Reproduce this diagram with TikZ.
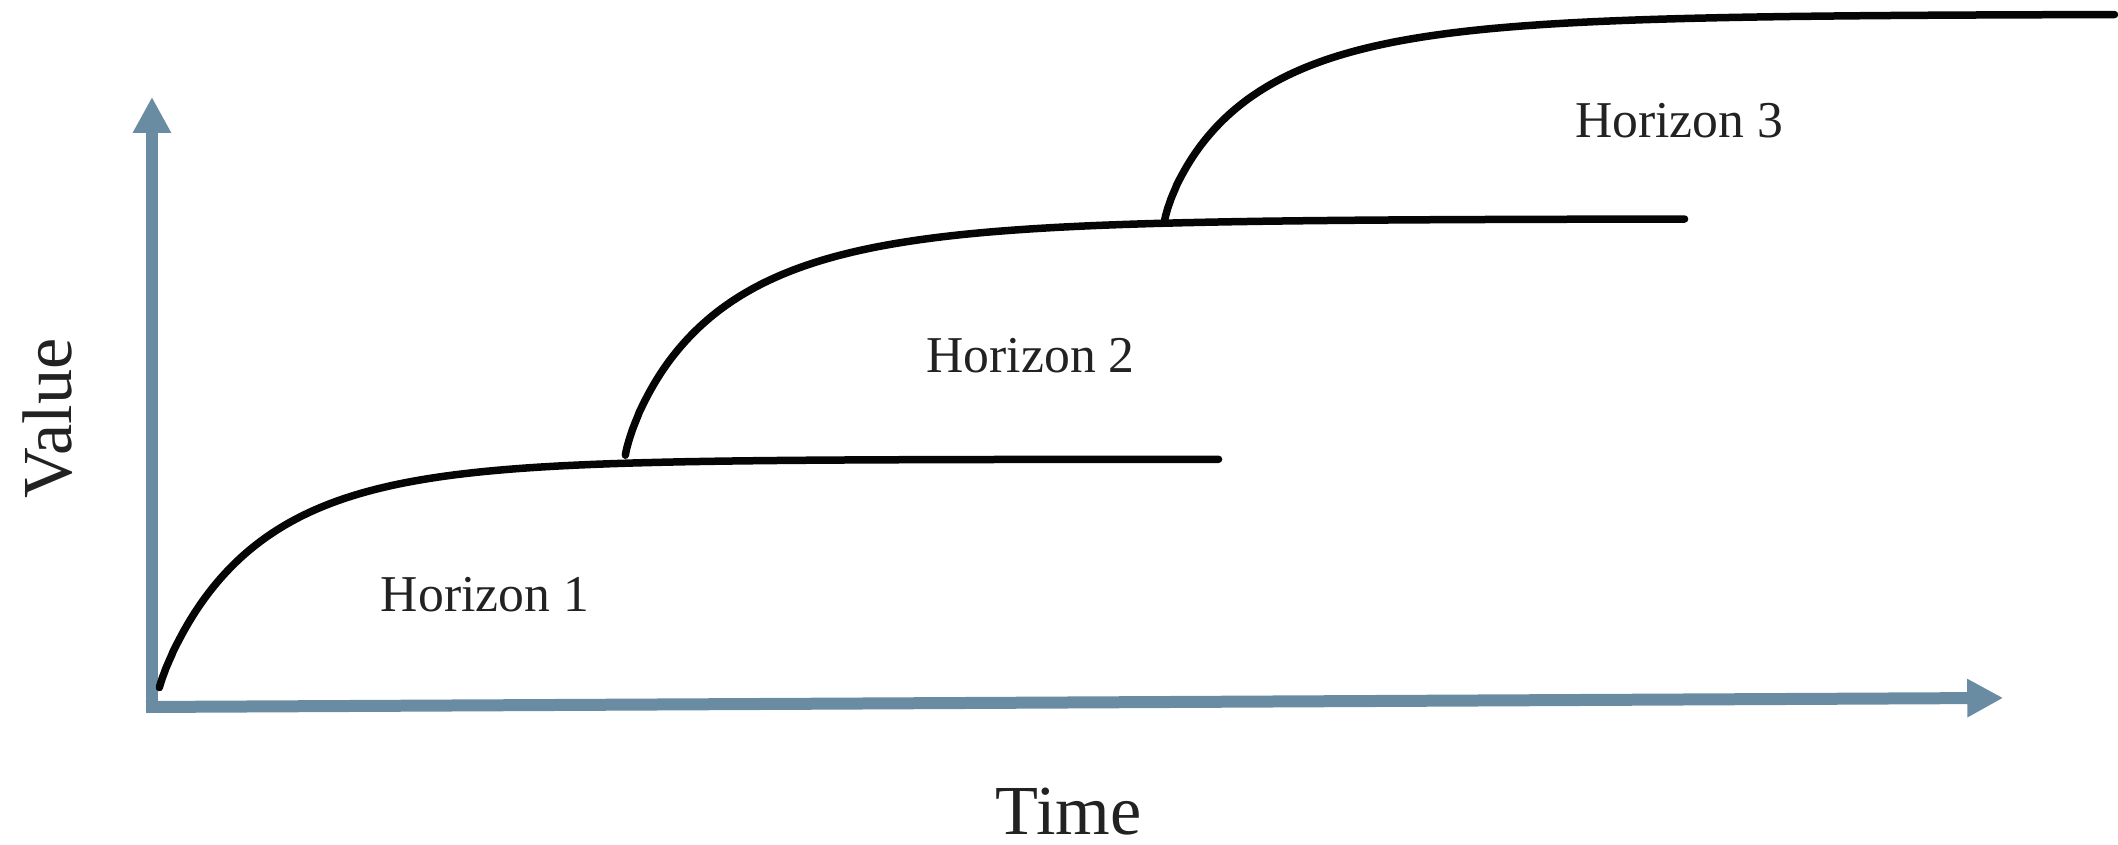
\documentclass[tikz,border=0pt]{standalone}
\usepackage{fontspec}
\setmainfont{Liberation Serif}
\usetikzlibrary{arrows.meta}
\definecolor{axisblue}{HTML}{6A8CA2}
\definecolor{curveblack}{HTML}{050505}
\definecolor{labelgray}{HTML}{222222}

\begin{document}
\begin{tikzpicture}[
  x=0.13508mm,y=-0.13508mm,line cap=round,line join=round,
  axis/.style={axisblue,line width=1.2mm,line cap=butt,-{Triangle[length=3.6mm,width=3.6mm]}},
  horizon/.style={curveblack,line width=0.75mm},
  horizonlabel/.style={font=\fontsize{14.7}{17}\selectfont,text=labelgray,anchor=base,inner sep=0pt},
  axislabel/.style={font=\fontsize{20}{24}\selectfont,text=labelgray,inner sep=0pt}
]
  \useasboundingbox (0,0) rectangle (1568,625);

  % Axes, the time axis slightly tilted like the reference image.
  \coordinate (origin) at (112.5,527.8);
  \coordinate (valuetip) at (112.5,71.8);
  \coordinate (timestart) at (108.1,523.4);
  \coordinate (timetip) at (1483,516.7);
  \draw[axis] (origin) -- (valuetip);
  \draw[axis] (timestart) -- (timetip);

  % Three saturating curves, each one starting on the plateau of the one before.
  % start x / plateau y / rise / length / scale / exponent
  \foreach \xs/\yp/\rise/\len/\k/\q in {118/340/169/787/73/0.9,
      463/162/175/787/74/0.82, 862/10.5/154/706/71/0.8} {
    \draw[horizon] plot[domain=0.001:1,samples=160,smooth,variable=\s]
      ({\xs+\len*\s*\s},{\yp+\rise*exp(-pow(\len*\s*\s/\k,\q))});
  }

  % Labels.
  \node[horizonlabel] (h1) at (359,453) {Horizon 1};
  \node[horizonlabel] (h2) at (763,276) {Horizon 2};
  \node[horizonlabel] (h3) at (1243,102) {Horizon 3};
  \node[axislabel,rotate=90] (value) at (35,310) {Value};
  \node[axislabel,anchor=base] (time) at (791,617.5) {Time};
\end{tikzpicture}
\end{document}
